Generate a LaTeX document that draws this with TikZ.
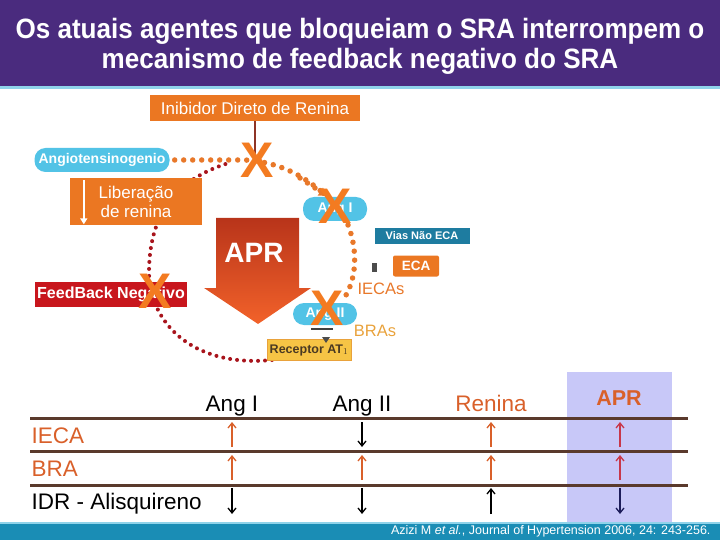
\documentclass[tikz,border=0pt]{standalone}
\usepackage{fontspec}
\setmainfont{Liberation Sans}
\newfontfamily\titlefont[FakeStretch=0.93]{Liberation Sans}
\usetikzlibrary{arrows.meta,positioning}
\definecolor{titlepurple}{HTML}{4A2B7E}
\definecolor{bandblue}{HTML}{1A8DB5}
\definecolor{lineblue}{HTML}{8FD3EA}
\definecolor{boxorange}{HTML}{EB7722}
\definecolor{pillcyan}{HTML}{52C3E6}
\definecolor{crossorange}{HTML}{F37B21}
\definecolor{feedred}{HTML}{C8161D}
\definecolor{dotred}{HTML}{A8141C}
\definecolor{dotorange}{HTML}{E8782A}
\definecolor{linered}{HTML}{8E3426}
\definecolor{viasblue}{HTML}{1E7CA0}
\definecolor{receptoryellow}{HTML}{F6C445}
\definecolor{receptortext}{HTML}{4A3A22}
\definecolor{aprtop}{HTML}{B8341A}
\definecolor{aprbottom}{HTML}{F2622A}
\definecolor{labelorange}{HTML}{D9602A}
\definecolor{brasgold}{HTML}{E9A23B}
\definecolor{rulebrown}{HTML}{5A3A2C}
\definecolor{lavender}{HTML}{C8C8F8}
\definecolor{aprred}{HTML}{C8374A}
\definecolor{navy}{HTML}{1C1C5A}

\begin{document}
\begin{tikzpicture}[x=1pt,y=-1pt,
    orangebox/.style={fill=boxorange, text=white, inner sep=0pt, font=\fontsize{17}{19}\selectfont},
    pill/.style={fill=pillcyan, text=white, rounded corners=11pt, minimum height=24pt, inner sep=0pt, font=\fontsize{14}{14}\selectfont\bfseries},
    crossmark/.style={text=crossorange, inner sep=0pt, font=\fontsize{50}{50}\selectfont\bfseries},
    dots/.style={dotorange, line width=5.5pt, line cap=round, dash pattern=on 0pt off 9pt},
    reddots/.style={dotred, line width=4pt, line cap=round, dash pattern=on 0pt off 7pt},
    header/.style={font=\fontsize{22.5}{22.5}\selectfont, anchor=base},
    rowlabel/.style={font=\fontsize{22.5}{22.5}\selectfont, anchor=base west},
    tablerule/.style={rulebrown, line width=3pt},
    tablearrow/.style={line width=1.3pt, -{Straight Barb[length=5pt,width=8pt]}},
]
\useasboundingbox (0,0) rectangle (720,540);

% title band
\fill[titlepurple] (0,0) rectangle (720,86);
\fill[lineblue] (0,86) rectangle (720,89);
\node[text=white, align=center, font=\titlefont\bfseries\fontsize{28}{30}\selectfont] (title) at (360,46)
  {Os atuais agentes que bloqueiam o SRA interrompem o\\mecanismo de feedback negativo do SRA};

% feedback loop (red dots)
\draw[reddots] (272,360) .. controls (190,368) and (148,320) .. (149,270)
  .. controls (150,220) and (170,180) .. (232,162);

% cascade
\node[orangebox, minimum width=210pt, minimum height=26pt] (inibidor) at (255,108) {Inibidor Direto de Renina};
\node[pill, minimum width=135pt] (angio) at (102,160) {Angiotensinogenio};
\node[pill, minimum width=64pt] (angI) at (335,209) {Ang I};
\node[pill, minimum width=64pt, minimum height=22pt] (angII) at (325,314) {Ang II};
\coordinate (x1pos) at (257,160);
\draw[linered, line width=1.5pt] (inibidor.south) -- (inibidor.south |- x1pos);
\draw[dots] (angio.east) ++(5,0) -- (245,160) .. controls (280,162) and (303,176) .. (322,192);
\draw[dots, arrows={-Triangle[length=8pt,width=9pt]}] (300,178) -- (327,196);
\draw[dots] (348,225) .. controls (358,250) and (357,280) .. (343,300);

\node[orangebox, minimum width=132pt, minimum height=47pt, align=center] (liberacao) at (136,202) {Liberação\\de renina};
\draw[white, line width=1.8pt, -{Triangle[length=6pt,width=7pt]}] (liberacao.north west) ++(14,2) -- ++(0,44);

% APR arrow
\shade[top color=aprtop, bottom color=aprbottom] (216,218) -- (299,218) -- (299,288) -- (311,288)
  -- (258,324) -- (204,288) -- (216,288) -- cycle;
\node[text=white, font=\fontsize{28}{28}\selectfont\bfseries] (apr) at (254,253) {APR};

\node[fill=feedred, text=white, minimum width=152pt, minimum height=25pt, inner sep=0pt,
  font=\fontsize{16}{16}\selectfont\bfseries] (feedback) at (111,294) {FeedBack Negativo};

\node[fill=viasblue, text=white, minimum width=95pt, minimum height=16pt, inner sep=0pt,
  font=\fontsize{11}{11}\selectfont\bfseries] (vias) at (422,236) {Vias Não ECA};
\node[fill=boxorange, text=white, minimum width=46pt, minimum height=21pt, inner sep=0pt, rounded corners=2pt,
  font=\fontsize{13.5}{13.5}\selectfont\bfseries] (eca) at (416,266) {ECA};
\fill[black!70] (372,263) rectangle (377,272);
\node[text=dotorange, font=\fontsize{16.5}{16.5}\selectfont] (iecas) at (381,289) {IECAs};
\node[text=brasgold, font=\fontsize{16.5}{16.5}\selectfont] (bras) at (375,331) {BRAs};

\draw[black!75, line width=2pt] (311,329) -- (333,329);
\node[fill=receptoryellow, draw=brasgold, text=receptortext, minimum width=84pt, minimum height=21pt, inner sep=0pt,
  font=\fontsize{12.5}{12.5}\selectfont\bfseries] (receptor) at (309,350) {Receptor AT$_1$};
\fill[black!70] (322,337) -- (330,337) -- (326,343) -- cycle;

% blocking marks
\node[crossmark] (x1) at (x1pos) {X};
\node[crossmark] (x2) at (335,206) {X};
\node[crossmark] (x3) at (155,291) {X};
\node[crossmark] (x4) at (327,308) {X};

% table
\fill[lavender] (567,372) rectangle (672,522);
\node[header] (hangI) at (232,411) {Ang I};
\node[header] (hangII) at (362,411) {Ang II};
\node[header, text=labelorange] (hrenina) at (491,411) {Renina};
\node[header, text=labelorange, font=\fontsize{21.5}{21.5}\selectfont\bfseries] (hapr) at (619,405) {APR};
\foreach \y in {418,451,485}
  \draw[tablerule] (30,\y) -- (688,\y);
\node[rowlabel, text=labelorange] (ieca) at (28,443) {IECA};
\node[rowlabel, text=labelorange] (bra) at (28,476) {BRA};
\node[rowlabel] (idr) at (28,509) {IDR - Alisquireno};
\foreach \x/\ya/\yb/\c in {232/447/422/labelorange, 232/480/455/labelorange, 232/488/514/black,
    362/422/447/black, 362/480/455/labelorange, 362/488/514/black,
    491/447/422/labelorange, 491/480/455/labelorange, 491/514/488/black,
    620/447/422/aprred, 620/480/455/aprred, 620/488/514/navy}
  \draw[tablearrow, \c] (\x,\ya) -- (\x,\yb);

% footer
\fill[bandblue] (0,522) rectangle (720,540);
\fill[lineblue] (0,522) rectangle (720,524);
\node[anchor=east, text=white, font=\fontsize{12.5}{12.5}\selectfont] (citation) at (714,531)
  {Azizi M \textit{et al.}, Journal of Hypertension 2006, 24: 243-256.};
\end{tikzpicture}
\end{document}
